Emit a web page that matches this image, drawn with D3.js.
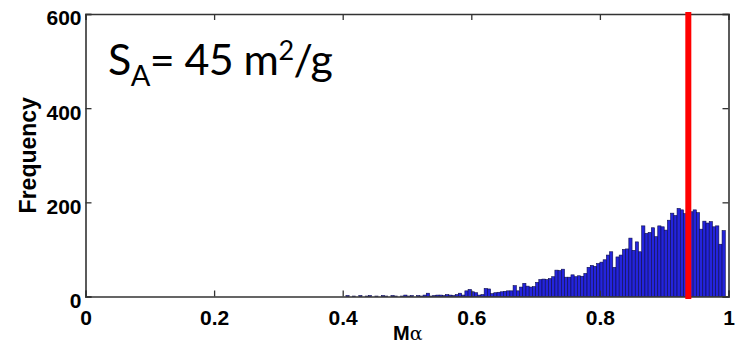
<!DOCTYPE html>
<html>
<head>
<meta charset="utf-8">
<script src="https://cdn.jsdelivr.net/npm/d3@7"></script>
<style>
  html, body { margin: 0; padding: 0; background: #fff; }
  svg { display: block; }
</style>
</head>
<body>
<svg id="chart" width="740" height="351"></svg>
<script>
// Histogram of Mα values (bin width 0.005), counts from Mα = 0.40 upward
const binStart = 0.40;
const binWidth = 0.005;
const counts = [
  0, 2, 0, 1, 0, 2, 0, 1, 2, 0,
  1, 0, 2, 1, 0, 2, 1, 0, 1, 3,
  1, 2, 0, 2, 1, 3, 7, 1, 2, 3,
  3, 2, 4, 3, 2, 4, 7, 3, 12, 15,
  10, 8, 3, 4, 17, 16, 6, 8, 9, 10,
  11, 12, 12, 23, 12, 20, 28, 22, 20, 21,
  30, 36, 37, 36, 38, 42, 56, 55, 58, 41,
  41, 46, 42, 44, 43, 49, 62, 66, 64, 70,
  73, 78, 88, 95, 62, 84, 88, 100, 101, 124,
  98, 116, 95, 150, 134, 136, 146, 127, 150, 148,
  141, 162, 177, 172, 187, 184, 176, 182, 180, 184,
  178, 143, 160, 156, 159, 148, 150, 111, 140
];
const xTicks = [0, 0.2, 0.4, 0.6, 0.8, 1];
const xTickLabels = ["0", "0.2", "0.4", "0.6", "0.8", "1"];
const yTicks = [0, 200, 400, 600];
const markerValue = 0.9375;   // measured Mα, drawn as the red line
const yLabel = "Frequency";

const svg = d3.select("#chart");
const plotLeft = 85.5, plotRight = 728.5, plotTop = 14, plotBottom = 296.5;
const x = d3.scaleLinear().domain([0, 1]).range([plotLeft, plotRight]);
const y = d3.scaleLinear().domain([0, 600]).range([plotBottom, plotTop]);

const bins = counts.map((c, i) => ({ x0: binStart + i * binWidth, x1: binStart + (i + 1) * binWidth, n: c }));

// bars
svg.append("g")
  .selectAll("rect")
  .data(bins.filter(d => d.n > 0))
  .join("rect")
  .attr("x", d => x(d.x0))
  .attr("width", d => x(d.x1) - x(d.x0))
  .attr("y", d => y(d.n))
  .attr("height", d => y(0) - y(d.n))
  .attr("fill", "#2424dc")
  .attr("stroke", "#0c0c4a")
  .attr("stroke-width", 0.6);

// axes: ticks point inward on all four sides
const axisColor = "#333";
const tickLen = 6;
const fontAxis = "'Liberation Sans', Arial, Helvetica, sans-serif";

const bottomAxis = d3.axisBottom(x).tickValues(xTicks).tickSize(-tickLen).tickPadding(13)
  .tickFormat((d, i) => xTickLabels[i]);
const topAxis = d3.axisTop(x).tickValues(xTicks).tickSize(-tickLen).tickFormat("");
const leftAxis = d3.axisLeft(y).tickValues(yTicks).tickSize(-tickLen).tickPadding(4);
const rightAxis = d3.axisRight(y).tickValues(yTicks).tickSize(-tickLen).tickFormat("");

function styleAxis(g) {
  g.select(".domain").attr("stroke", axisColor).attr("stroke-width", 1.6);
  g.selectAll(".tick line").attr("stroke", axisColor).attr("stroke-width", 1.3);
  g.selectAll(".tick text")
    .attr("fill", "#000")
    .attr("font-family", fontAxis)
    .attr("font-weight", "bold")
    .attr("font-size", 21);
}

svg.append("g").attr("transform", `translate(0,${plotBottom})`).call(bottomAxis).call(styleAxis)
  .selectAll(".tick text").attr("dy", "0.75em");
svg.append("g").attr("transform", `translate(0,${plotTop})`).call(topAxis).call(styleAxis);
svg.append("g").attr("transform", `translate(${plotLeft},0)`).call(leftAxis).call(styleAxis)
  .selectAll(".tick text").attr("dy", "0.52em");
svg.append("g").attr("transform", `translate(${plotRight},0)`).call(rightAxis).call(styleAxis);

// red marker line
svg.append("line")
  .attr("x1", x(markerValue)).attr("x2", x(markerValue))
  .attr("y1", 12).attr("y2", 299)
  .attr("stroke", "#ff0000")
  .attr("stroke-width", 6);

// axis titles
const xTitle = svg.append("text")
  .attr("x", 393)
  .attr("y", 340)
  .attr("font-family", fontAxis)
  .attr("font-size", 20);
xTitle.append("tspan").attr("font-weight", "bold").text("M");
xTitle.append("tspan").attr("font-family", "'DejaVu Serif', serif").attr("font-size", 19).text("α");

svg.append("text")
  .attr("transform", `translate(36,${(plotTop + plotBottom) / 2}) rotate(-90)`)
  .attr("text-anchor", "middle")
  .attr("font-family", fontAxis)
  .attr("font-weight", "bold")
  .attr("font-size", 23)
  .text(yLabel);

// specific surface area annotation
const note = svg.append("text")
  .attr("x", 108)
  .attr("y", 75)
  .attr("font-family", "Lato, 'Open Sans', sans-serif")
  .attr("font-size", 43)
  .attr("letter-spacing", -0.6)
  .attr("fill", "#000");
note.append("tspan").text("S");
note.append("tspan").attr("font-size", 29).attr("dy", 11).text("A");
note.append("tspan").attr("dy", -11).text("= 45 m");
note.append("tspan").attr("font-size", 27).attr("dy", -15).text("2");
note.append("tspan").attr("dy", 15).text("/g");
</script>
</body>
</html>
